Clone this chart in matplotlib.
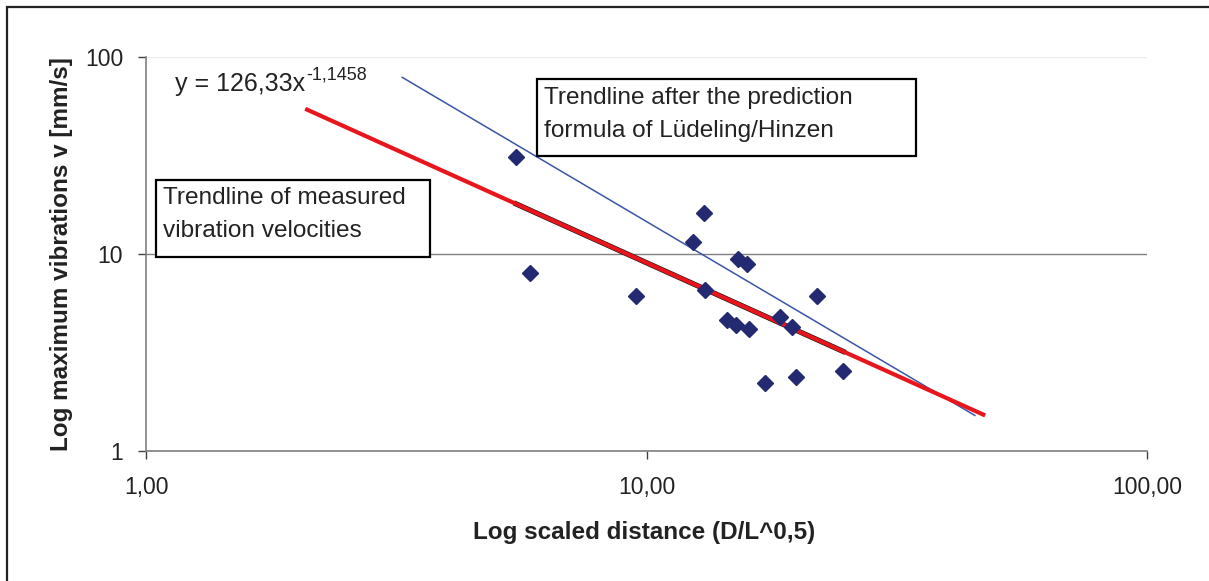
import numpy as np
import matplotlib
matplotlib.use("Agg")
import matplotlib.pyplot as plt
from matplotlib.patches import Rectangle

plt.rcParams['font.family'] = ['Liberation Sans', 'DejaVu Sans']

# measured points (scaled distance, max vibration velocity mm/s)
dist = [5.49, 5.85, 13.03, 12.38, 15.23, 15.88, 9.53, 13.09, 21.91,
        14.48, 15.10, 16.03, 18.49, 19.53, 17.25, 19.89, 24.70]
vel = [31.1, 8.01, 16.15, 11.51, 9.43, 8.90, 6.12, 6.57, 6.12,
       4.62, 4.36, 4.16, 4.79, 4.26, 2.21, 2.38, 2.55]

# power law trendlines y = a * x^b, drawn between two x values
fit_a, fit_b = 126.33, -1.1458
fit_x = [2.08, 47.5]
pred_a, pred_b = 462.0, -1.5
pred_x = [3.25, 45.3]

xticks = [1, 10, 100]
xticklabels = ['1,00', '10,00', '100,00']
yticks = [1, 10, 100]
yticklabels = ['1', '10', '100']

W, H = 1209, 581
fig = plt.figure(figsize=(W / 100, H / 100), dpi=100)

def fx(x):
    return x / W

def fy(y):
    return 1 - y / H

ax = fig.add_axes([fx(146), fy(451), fx(1147) - fx(146), fy(57) - fy(451)])
ax.set_xscale('log')
ax.set_yscale('log')
ax.set_xlim(1, 100)
ax.set_ylim(1, 100)

# gridlines
ax.set_yticks(yticks)
ax.set_yticklabels(yticklabels)
ax.set_xticks(xticks)
ax.set_xticklabels(xticklabels)
ax.minorticks_off()
ax.yaxis.grid(True, color='#808080', lw=1.0)
ax.yaxis.get_gridlines()[-1].set_color('#eeeeee')

for s in ['top', 'right']:
    ax.spines[s].set_visible(False)
for s in ['left', 'bottom']:
    ax.spines[s].set_color('#808080')
    ax.spines[s].set_linewidth(1.2)
ax.tick_params(axis='both', direction='out', length=6, width=1.0,
               color='#404040', labelsize=16.5, labelcolor='#222222')
ax.tick_params(axis='y', pad=10.5)
ax.tick_params(axis='x', pad=12)

# trendlines
px = np.array(pred_x)
ax.plot(px, pred_a * px ** pred_b, color='#3a55a8', lw=1.1, zorder=3)
dx = np.array([min(dist), max(dist)])
ax.plot(dx, fit_a * dx ** fit_b, color='#111111', lw=3.8, zorder=4)
fxs = np.array(fit_x)
ax.plot(fxs, fit_a * fxs ** fit_b, color='#e8161c', lw=3.0, zorder=5,
        solid_capstyle='butt')

ax.plot(dist, vel, ls='none', marker='D', ms=8.2, color='#232a72', zorder=6)

ax.set_xlabel('Log scaled distance (D/L^0,5)', fontsize=17.5,
              fontweight='bold', color='#222222', va='center')
ax.xaxis.set_label_coords((644 - 146) / 1001, (451 - 532) / 394)
ax.set_ylabel('Log maximum vibrations v [mm/s]', fontsize=17.5,
              fontweight='bold', color='#222222', va='center')
ax.yaxis.set_label_coords((62 - 146) / 1001, (451 - 254) / 394)

# equation
fig.text(fx(175), fy(91), 'y = 126,33x', fontsize=18, color='#222222',
         va='baseline')
fig.text(fx(306), fy(80), '-1,1458', fontsize=13, color='#222222',
         va='baseline')

# text boxes
fig.patches.append(Rectangle((fx(156), fy(257)), fx(430) - fx(156),
                             fy(180) - fy(257), transform=fig.transFigure,
                             fill=True, facecolor='white', edgecolor='black',
                             lw=1.6, zorder=7))
fig.text(fx(163), fy(204), 'Trendline of measured', fontsize=17.6,
         color='#222222', va='baseline', zorder=8)
fig.text(fx(163), fy(237), 'vibration velocities', fontsize=17.6,
         color='#222222', va='baseline', zorder=8)

fig.patches.append(Rectangle((fx(537), fy(156)), fx(916) - fx(537),
                             fy(79) - fy(156), transform=fig.transFigure,
                             fill=True, facecolor='white', edgecolor='black',
                             lw=1.6, zorder=7))
fig.text(fx(544), fy(104), 'Trendline after the prediction', fontsize=17.6,
         color='#222222', va='baseline', zorder=8)
fig.text(fx(544), fy(137), 'formula of Lüdeling/Hinzen', fontsize=17.6,
         color='#222222', va='baseline', zorder=8)

# outer frame (top and left visible)
fig.patches.append(Rectangle((fx(7), -0.1), 1.2, fy(7) + 0.1,
                             transform=fig.transFigure, fill=False,
                             edgecolor='#222222', lw=1.6, clip_on=False))

fig.savefig('out.png', dpi=100)
